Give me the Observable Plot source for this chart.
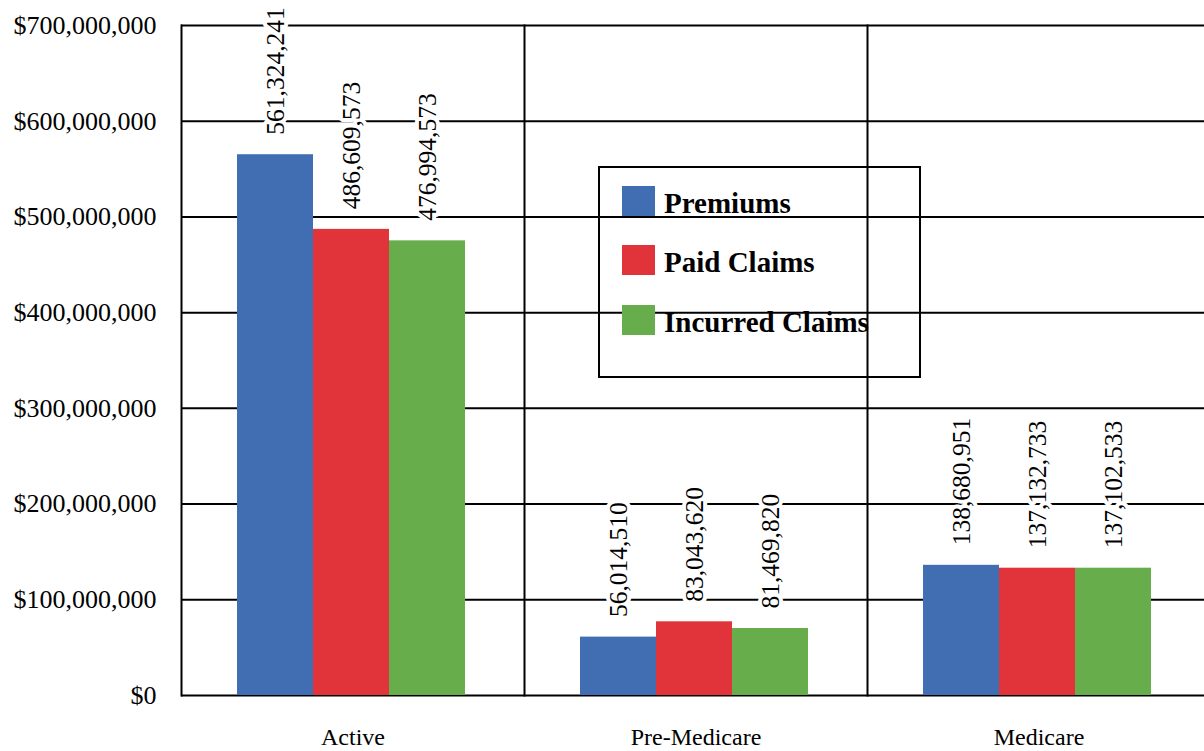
<!DOCTYPE html>
<html>
<head>
<meta charset="utf-8">
<script src="https://cdn.jsdelivr.net/npm/d3@7"></script>
<script src="https://cdn.jsdelivr.net/npm/@observablehq/plot@0.6"></script>
<style>
  html, body { margin: 0; padding: 0; background: white; overflow: hidden; }
  #wrap { position: relative; width: 1204px; height: 751px; overflow: hidden; }
  #legend { position: absolute; left: 598px; top: 166px; width: 323px; height: 212px;
            box-sizing: border-box; border: 2px solid #000; background: transparent;
            font-family: "Liberation Serif", "Times New Roman", serif; font-weight: bold; font-size: 29px; }
  #legend .sw { position: absolute; left: 22px; width: 33px; height: 30px; }
  #legend .lb { position: absolute; left: 64px; line-height: 28px; white-space: nowrap; color: #000; }
</style>
</head>
<body>
<div id="wrap"><div id="chart"></div><div id="legend"></div></div>
<script>
const categories = ["Active", "Pre-Medicare", "Medicare"];
const series = ["Premiums", "Paid Claims", "Incurred Claims"];
const colors = ["#416db3", "#e1343a", "#67ad4c"];
// bar heights as drawn in the picture
const premiums = [565e6, 61e6, 136e6];
const paidClaims = [487e6, 77e6, 133e6];
const incurredClaims = [475e6, 70e6, 133e6];
// printed value labels
const premiumsLabels = ["561,324,241", "56,014,510", "138,680,951"];
const paidClaimsLabels = ["486,609,573", "83,043,620", "137,132,733"];
const incurredClaimsLabels = ["476,994,573", "81,469,820", "137,102,533"];
const yTicks = [0, 100e6, 200e6, 300e6, 400e6, 500e6, 600e6, 700e6];

const seriesValues = [premiums, paidClaims, incurredClaims];
const seriesLabels = [premiumsLabels, paidClaimsLabels, incurredClaimsLabels];
const data = [];
categories.forEach((c, i) => series.forEach((s, j) => {
  data.push({category: c, series: s, value: seriesValues[j][i], label: seriesLabels[j][i]});
}));

const fmt = d3.format(",");
const chart = Plot.plot({
  width: 1210,
  height: 751,
  marginLeft: 180,
  marginRight: 0,
  marginTop: 25,
  marginBottom: 56,
  style: {fontFamily: "'Liberation Serif', 'Times New Roman', serif", maxWidth: "none", background: "white", color: "#000"},
  fx: {domain: categories, padding: 0, label: null},
  x: {domain: series, paddingInner: 0, paddingOuter: 0.73, align: 0.49, axis: null},
  y: {domain: [0, 700e6], axis: null},
  color: {domain: series, range: colors},
  marks: [
    Plot.ruleY(yTicks, {stroke: "#000", strokeWidth: 2}),
    Plot.frame({anchor: "left", stroke: "#000", strokeWidth: 2}),
    Plot.barY(data, {fx: "category", x: "series", y: "value", fill: "series"}),
    Plot.text(data, {fx: "category", x: "series", y: "value", text: "label",
      rotate: -90, textAnchor: "start", lineAnchor: "middle", dy: -20,
      fontSize: 25.5, fill: "#000", stroke: "white", strokeWidth: 8}),
    Plot.axisY(yTicks, {tickSize: 0, tickPadding: 25, fontSize: 26,
      tickFormat: d => "$" + fmt(d), label: null}),
    Plot.axisFx({anchor: "bottom", tickSize: 0, tickPadding: 32, fontSize: 24, label: null})
  ]
});
document.getElementById("chart").appendChild(chart);

const legend = document.getElementById("legend");
const rowTops = [18, 77, 137];
series.forEach((s, i) => {
  const sw = document.createElement("div");
  sw.className = "sw";
  sw.style.top = rowTops[i] + "px";
  sw.style.background = colors[i];
  legend.appendChild(sw);
  const lb = document.createElement("div");
  lb.className = "lb";
  lb.style.top = (rowTops[i] + 3) + "px";
  lb.textContent = s;
  legend.appendChild(lb);
});
</script>
</body>
</html>
